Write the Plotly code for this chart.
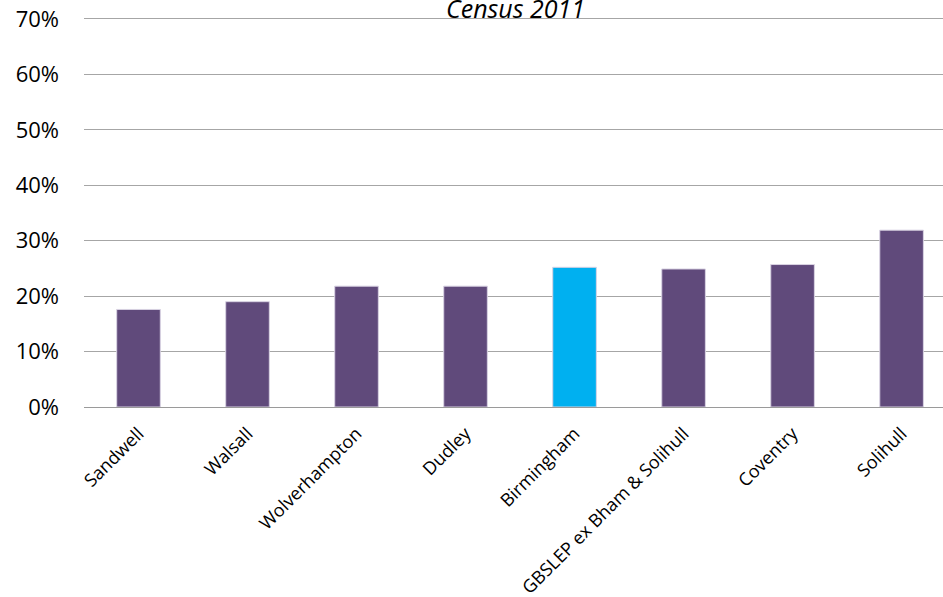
import plotly.graph_objects as go

categories = ["Sandwell", "Walsall", "Wolverhampton", "Dudley", "Birmingham",
              "GBSLEP ex Bham & Solihull", "Coventry", "Solihull"]
values = [0.176, 0.190, 0.218, 0.218, 0.252, 0.249, 0.257, 0.319]
bar_colors = ["#604A7B", "#604A7B", "#604A7B", "#604A7B", "#00B0F0",
              "#604A7B", "#604A7B", "#604A7B"]
title_text = "Census 2011"
y_ticks = [0, 0.1, 0.2, 0.3, 0.4, 0.5, 0.6, 0.7]

fig = go.Figure(go.Bar(
    x=categories, y=values,
    marker=dict(color=bar_colors, line=dict(color="#D9D3E3", width=1)),
    width=0.4,
))

fig.update_layout(
    width=943, height=597,
    margin=dict(l=84, r=0, t=8, b=190),
    paper_bgcolor="white", plot_bgcolor="white",
    font=dict(family="Open Sans, Liberation Sans, sans-serif", color="#000000"),
    showlegend=False,
)
fig.update_xaxes(
    range=[-0.5, 7.38], tickangle=-45,
    tickfont=dict(size=18),
    showline=True, linecolor="#9A9A9A", linewidth=1,
    showgrid=False, ticks="", ticklabelstandoff=8,
    automargin=False,
)
fig.update_yaxes(
    range=[0, 0.7198], tickvals=y_ticks, tickformat=".0%",
    tickfont=dict(size=22),
    showgrid=True, gridcolor="#A6A6A6", gridwidth=1,
    zeroline=False, ticks="", ticklabelstandoff=24,
    ticklabeloverflow="allow", automargin=False,
)
fig.add_annotation(
    text=title_text, xref="paper", yref="paper", x=0.502, y=1.0,
    xanchor="center", yanchor="middle", yshift=0, showarrow=False,
    font=dict(size=25, style="italic", family="Open Sans, Liberation Sans, sans-serif"),
)
fig.write_html("out.html", config={"displayModeBar": False},
               post_script="document.body.style.margin='0px';")
